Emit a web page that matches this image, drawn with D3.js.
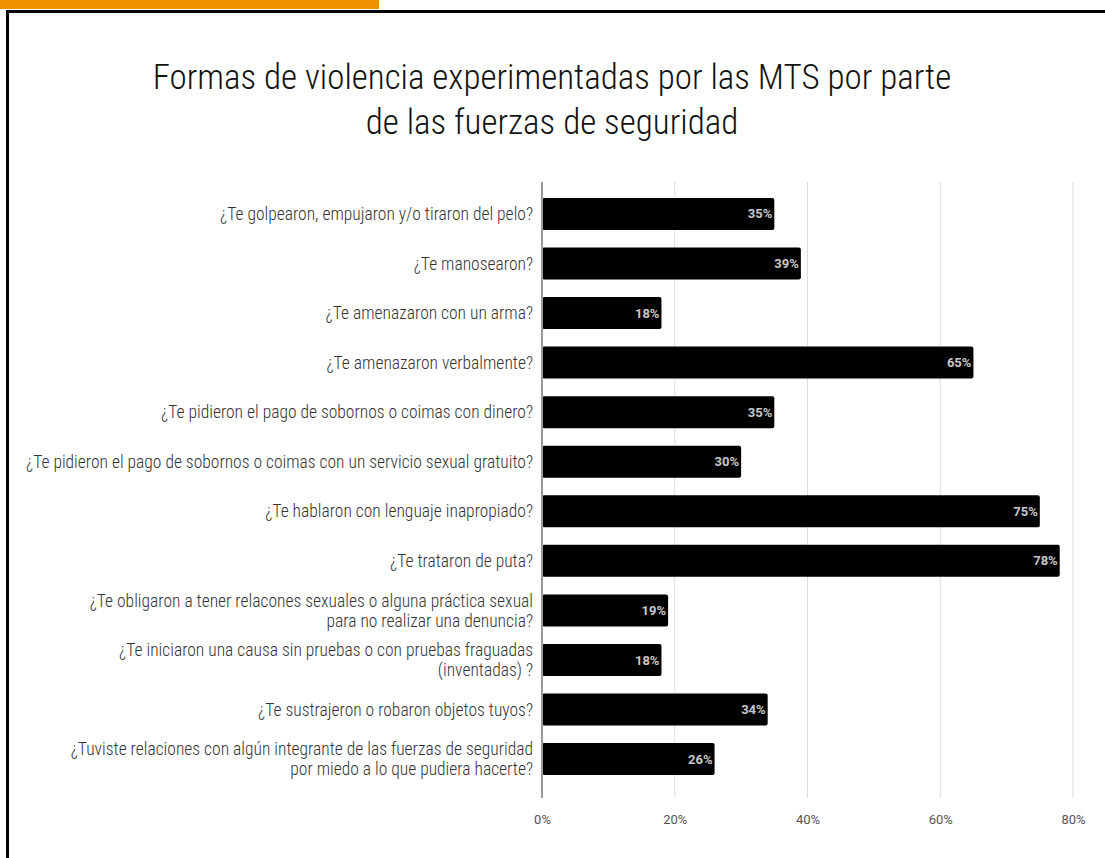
<!DOCTYPE html>
<html>
<head>
<meta charset="utf-8">
<script src="https://cdn.jsdelivr.net/npm/d3@7"></script>
<style>
  body { margin: 0; background: #fff; }
  svg { display: block; }
</style>
</head>
<body>
<div id="chart"></div>
<script>
// categories (split in lines like the original) and values in %
let categories = [
    ["¿Te golpearon, empujaron y/o tiraron del pelo?"],
    ["¿Te manosearon?"],
    ["¿Te amenazaron con un arma?"],
    ["¿Te amenazaron verbalmente?"],
    ["¿Te pidieron el pago de sobornos o coimas con dinero?"],
    ["¿Te pidieron el pago de sobornos o coimas con un servicio sexual gratuito?"],
    ["¿Te hablaron con lenguaje inapropiado?"],
    ["¿Te trataron de puta?"],
    ["¿Te obligaron a tener relacones sexuales o alguna práctica sexual", "para no realizar una denuncia?"],
    ["¿Te iniciaron una causa sin pruebas o con pruebas fraguadas", "(inventadas) ?"],
    ["¿Te sustrajeron o robaron objetos tuyos?"],
    ["¿Tuviste relaciones con algún integrante de las fuerzas de seguridad", "por miedo a lo que pudiera hacerte?"]
]
let values = [35, 39, 18, 65, 35, 30, 75, 78, 19, 18, 34, 26]
let xTicks = [0, 20, 40, 60, 80]
let titleLines = [
    "Formas de violencia experimentadas por las MTS por parte",
    "de las fuerzas de seguridad"
]

let data = values.map((v, i) => ({ id: i, label: categories[i], value: v }))

var width = 1105, height = 858
var labelFont = "'Liberation Sans Narrow', 'Roboto Condensed', 'DejaVu Sans Condensed', sans-serif"

var svg = d3.select("#chart")
    .append("svg")
    .attr("width", width)
    .attr("height", height)

// orange tab + frame
svg.append("rect")
    .attr("x", 0).attr("y", 0)
    .attr("width", 379).attr("height", 9)
    .attr("fill", "#f39200")

svg.append("path")
    .attr("d", "M7.5," + height + " V11.5 H" + width)
    .attr("fill", "none")
    .attr("stroke", "#000")
    .attr("stroke-width", 3)

// title
svg.append("g")
    .selectAll("text")
    .data(titleLines)
    .enter().append("text")
    .attr("x", 552)
    .attr("y", (d, i) => 89 + i * 45)
    .attr("text-anchor", "middle")
    .style("font-family", labelFont)
    .style("font-size", "35px")
    .style("font-weight", "300")
    .style("fill", "#111")
    .text(d => d)

var x = d3.scaleLinear()
    .domain([0, 80])
    .range([542, 1073])

var y = d3.scaleBand()
    .domain(data.map(d => d.id))
    .range([189, 784])
    .paddingInner(0.355)
    .paddingOuter(0.18)

var gridTop = 182, gridBottom = 798

// gridlines
svg.append("g")
    .selectAll("line")
    .data(xTicks.slice(1))
    .enter().append("line")
    .attr("x1", d => x(d)).attr("x2", d => x(d))
    .attr("y1", gridTop).attr("y2", gridBottom)
    .attr("stroke", "#dcdcdc")
    .attr("stroke-width", 1)

// x axis labels (no domain line)
var xAxis = d3.axisBottom(x)
    .tickValues(xTicks)
    .tickSize(0)
    .tickPadding(0)
    .tickFormat(d => d + "%")

svg.append("g")
    .attr("class", "x-axis")
    .attr("transform", "translate(0," + 815 + ")")
    .call(xAxis)
    .call(g => g.select(".domain").remove())
    .selectAll("text")
    .style("font-family", "Roboto, 'Open Sans', sans-serif")
    .style("font-size", "13px")
    .style("fill", "#555")

// bars
svg.append("g")
    .selectAll("rect")
    .data(data)
    .enter().append("rect")
    .attr("x", x(0))
    .attr("y", d => y(d.id))
    .attr("width", d => x(d.value) - x(0))
    .attr("height", y.bandwidth())
    .attr("rx", 2)
    .attr("fill", "#000")

// value labels inside bars
svg.append("g")
    .selectAll("text")
    .data(data)
    .enter().append("text")
    .attr("x", d => x(d.value) - 2)
    .attr("y", d => y(d.id) + y.bandwidth() / 2)
    .attr("dy", "0.35em")
    .attr("text-anchor", "end")
    .style("font-family", "Roboto, 'Open Sans', sans-serif")
    .style("font-size", "13px")
    .style("font-weight", "bold")
    .style("fill", "#c8c8c8")
    .text(d => d.value + "%")

// zero line
svg.append("line")
    .attr("x1", x(0)).attr("x2", x(0))
    .attr("y1", gridTop).attr("y2", gridBottom)
    .attr("stroke", "#999")
    .attr("stroke-width", 2)

// category labels, right aligned before the axis
var catLabels = svg.append("g")
    .selectAll("text")
    .data(data)
    .enter().append("text")
    .attr("text-anchor", "end")
    .attr("y", d => y(d.id) + y.bandwidth() / 2)
    .style("font-family", labelFont)
    .style("font-size", "17.5px")
    .style("font-weight", "300")
    .style("fill", "#333")

catLabels.selectAll("tspan")
    .data(d => d.label.map((t, i, a) => ({ t: t, i: i, n: a.length })))
    .enter().append("tspan")
    .attr("x", 533)
    .attr("dy", d => d.i === 0 ? (0.35 - (d.n - 1) * 0.57) + "em" : "1.14em")
    .text(d => d.t)
</script>
</body>
</html>
